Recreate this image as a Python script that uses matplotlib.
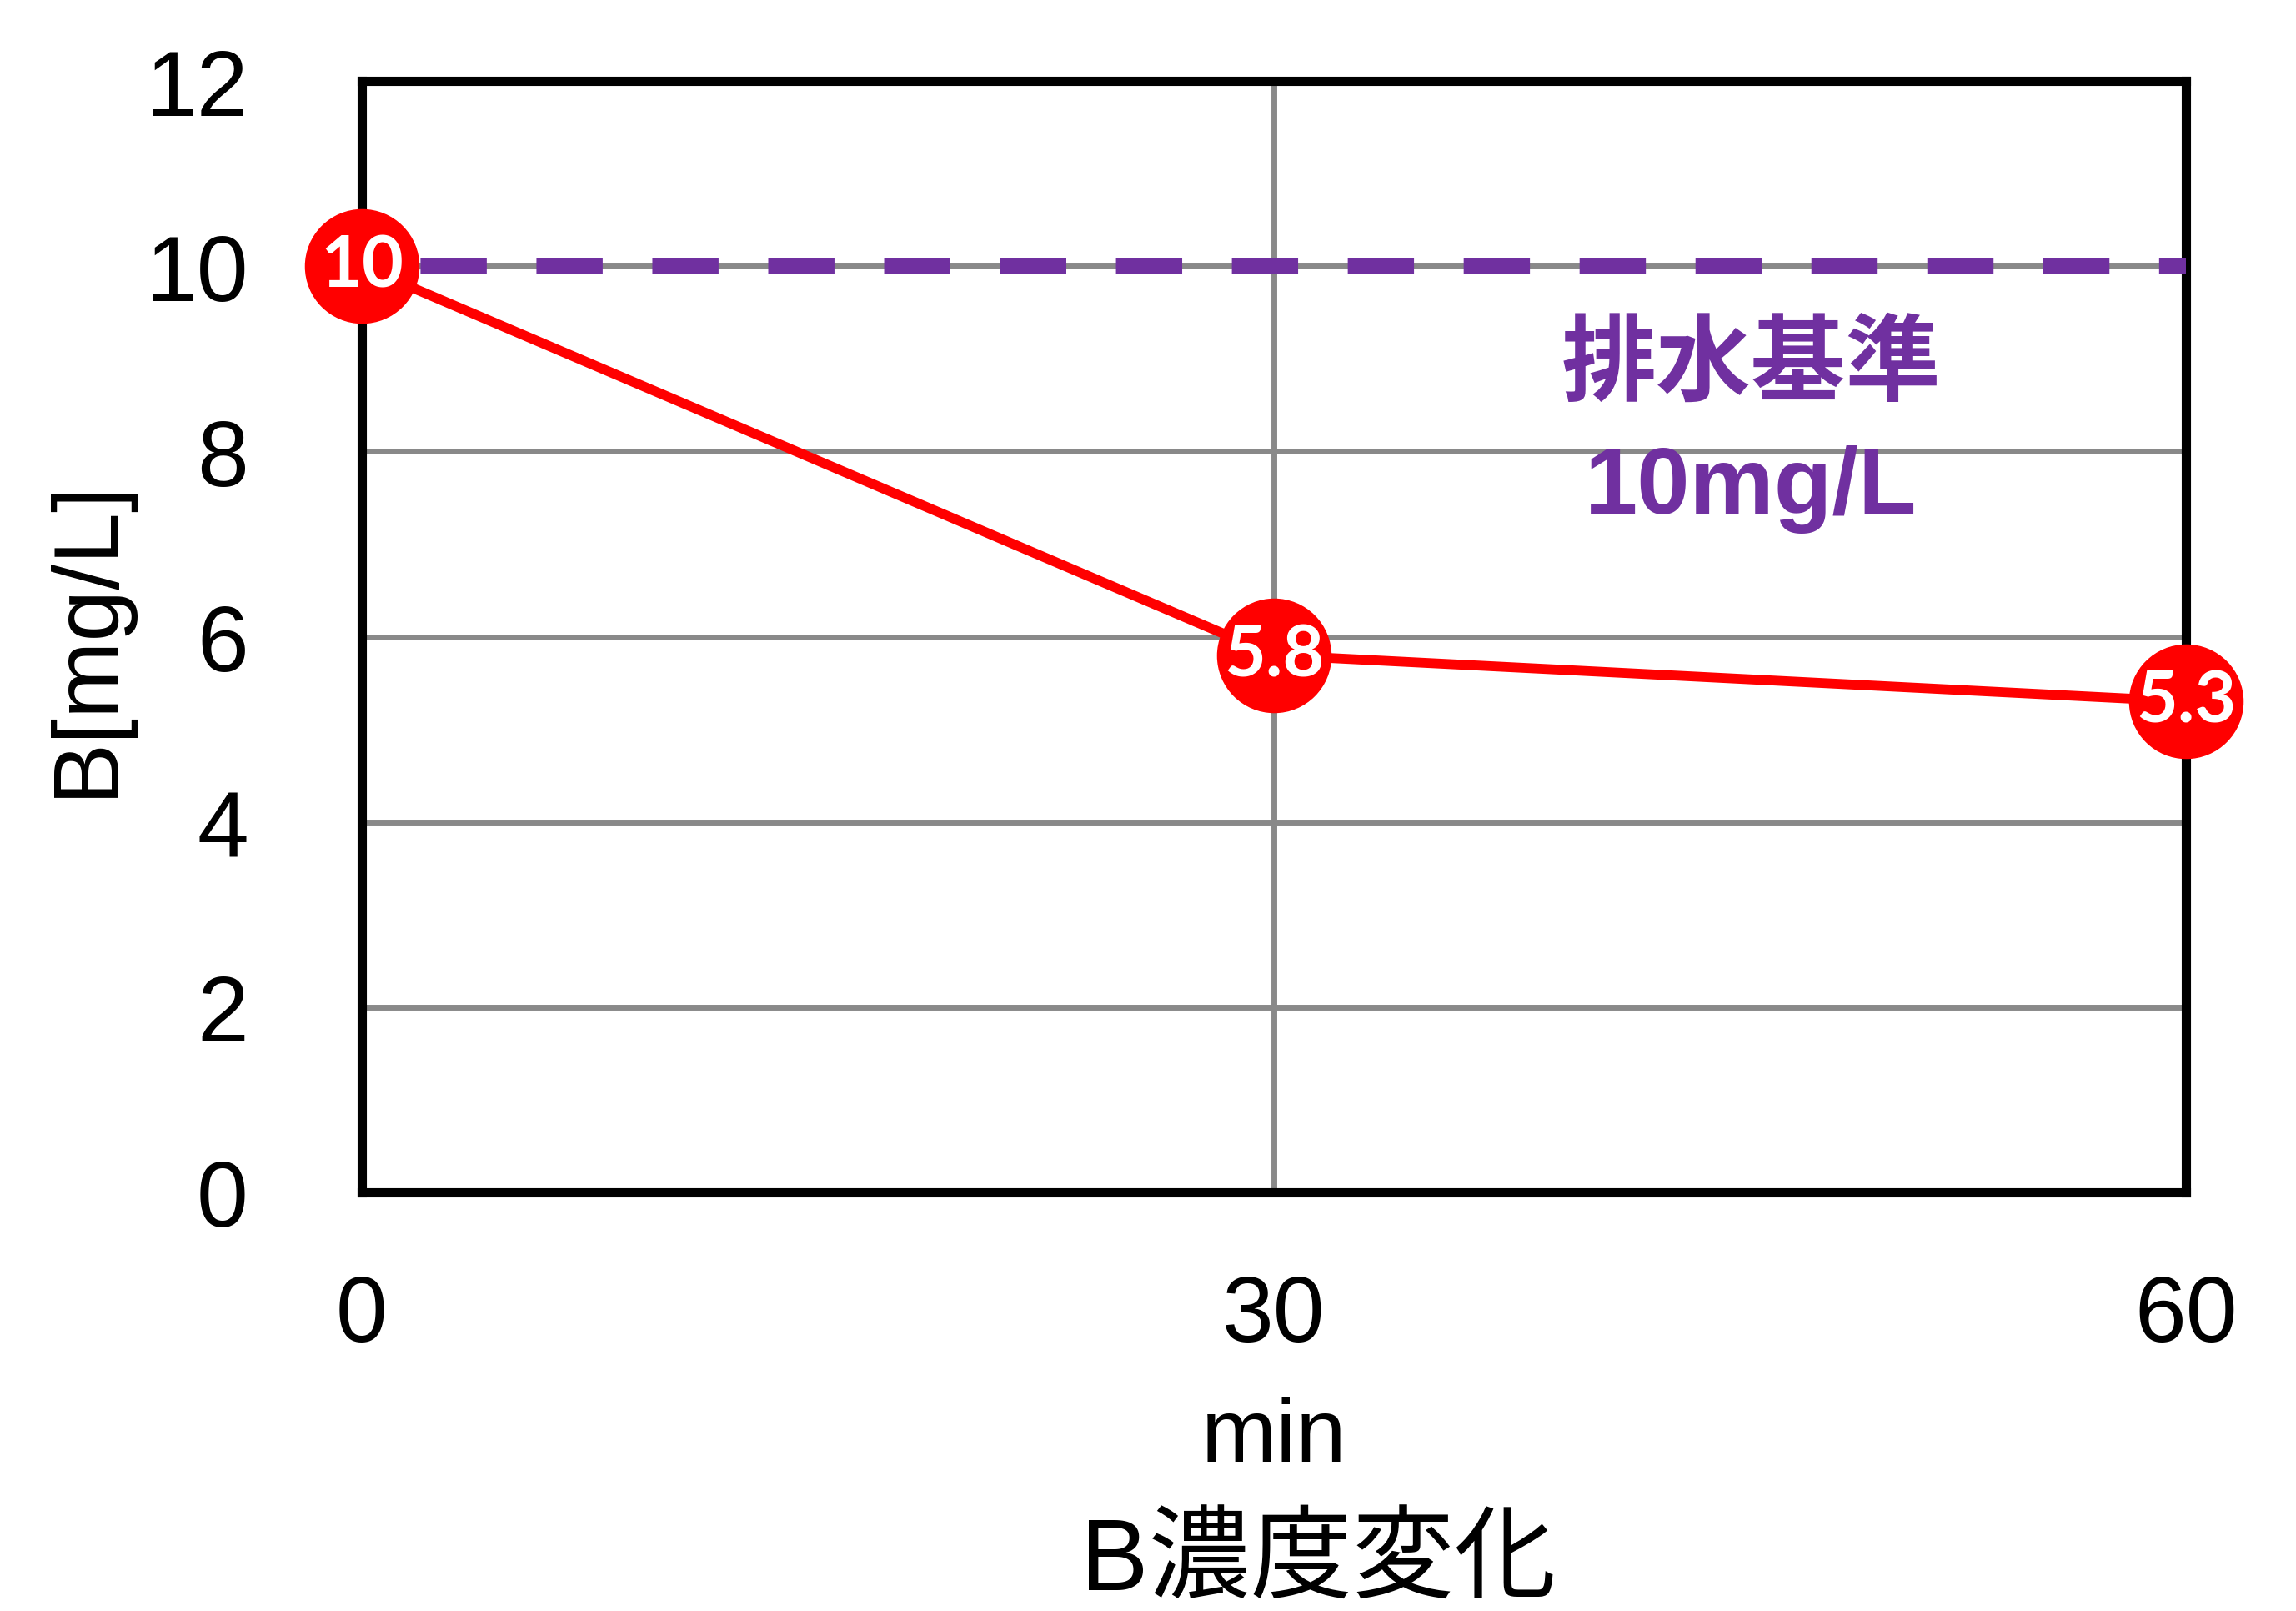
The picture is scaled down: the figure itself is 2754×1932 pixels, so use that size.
import matplotlib
matplotlib.use("Agg")
import matplotlib.pyplot as plt

# data
minutes = [0, 30, 60]
boron = [10, 5.8, 5.3]
point_labels = ["10", "5.8", "5.3"]
limit_value = 10
y_ticks = [0, 2, 4, 6, 8, 10, 12]
x_ticks = [0, 30, 60]

RED = "#FF0000"
PURPLE = "#7030A0"
GRID = "#898989"
FONTS = ["Liberation Sans", "Noto Sans CJK JP", "DejaVu Sans"]

plt.rcParams["font.family"] = FONTS

fig = plt.figure(figsize=(27.54, 19.33), dpi=100)
ax = fig.add_axes([0.1576, 0.2597, 0.9521 - 0.1576, 0.9493 - 0.2597])

ax.set_xlim(0, 60)
ax.set_ylim(0, 12)
ax.set_xticks(x_ticks)
ax.set_yticks(y_ticks)
ax.tick_params(axis="both", length=0, labelsize=80)
ax.tick_params(axis="x", pad=70)
ax.tick_params(axis="y", pad=98)

ax.grid(True, color=GRID, linewidth=5, zorder=1)
ax.set_axisbelow(True)
for sp in ax.spines.values():
    sp.set_linewidth(8)
    sp.set_color("black")
    sp.set_zorder(3)

# discharge standard line
ax.axhline(limit_value, color=PURPLE, linewidth=13,
           linestyle=(3.8, (4.4, 3.3)), dash_capstyle="butt",
           clip_on=False, zorder=4)

ax.plot(minutes, boron, color=RED, linewidth=8.5, zorder=5, clip_on=False)
ax.plot(minutes, boron, linestyle="none", marker="o", markersize=98,
        markerfacecolor=RED, markeredgecolor=RED, zorder=6, clip_on=False)
for xv, yv, lab in zip(minutes, boron, point_labels):
    ax.text(xv, yv, lab, ha="center", va="center", color="white",
            fontsize=62, fontweight="bold", family=["Lato", "DejaVu Sans"],
            zorder=7)

ax.text(45.7, 8.9, "排水基準", ha="center", va="center", color=PURPLE,
        fontsize=82, fontweight="bold", zorder=4)
ax.text(45.7, 7.6, "10mg/L", ha="center", va="center", color=PURPLE,
        fontsize=82, fontweight="bold", zorder=4)

fig.text(105 / 2754, 1 - 765 / 1933, "B[mg/L]", rotation=90,
         ha="center", va="center", fontsize=80)
fig.text(1528 / 2754, 1 - 1753 / 1933, "min", ha="center", va="baseline",
         fontsize=78)
fig.text(1581 / 2754, 1 - 1908 / 1933, "B濃度変化", ha="center",
         va="baseline", fontsize=88)

fig.savefig("out.png", dpi=100)
